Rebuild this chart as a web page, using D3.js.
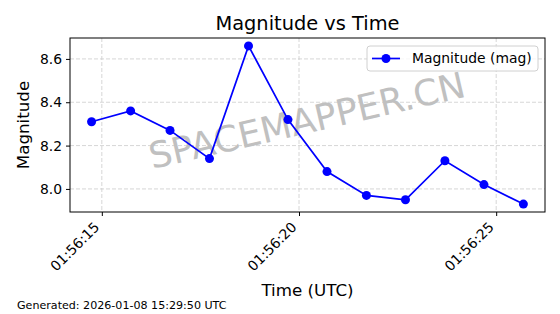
<!DOCTYPE html>
<html>
<head>
<meta charset="utf-8">
<script src="https://cdn.jsdelivr.net/npm/d3@7"></script>
<style>
  body { margin: 0; background: #fff; }
  svg, svg text { font-family: "DejaVu Sans", sans-serif; }
</style>
</head>
<body>
<svg width="560" height="314"></svg>
<script>
// donnees
const times = ["01:56:14.74", "01:56:15.73", "01:56:16.73", "01:56:17.73", "01:56:18.72", "01:56:19.72",
  "01:56:20.71", "01:56:21.71", "01:56:22.70", "01:56:23.70", "01:56:24.69", "01:56:25.69"];
const mags = [8.31, 8.36, 8.27, 8.14, 8.66, 8.32, 8.08, 7.97, 7.95, 8.13, 8.02, 7.93];
const yTicks = [8.0, 8.2, 8.4, 8.6];
const xTicks = ["01:56:15", "01:56:20", "01:56:25"];

const parse = d3.utcParse("%H:%M:%S.%L");
const parseTick = d3.utcParse("%H:%M:%S");
const data = times.map((t, i) => ({ t: parse(t + "0"), v: mags[i] }));

const margin = { top: 38, right: 15, bottom: 102, left: 70 };
const width = 560 - margin.left - margin.right;
const height = 314 - margin.top - margin.bottom;

// marges de 5% comme matplotlib
const tExt = d3.extent(data, d => +d.t);
const tPad = (tExt[1] - tExt[0]) * 0.05;
const vExt = d3.extent(mags);
const vPad = (vExt[1] - vExt[0]) * 0.05;

const x = d3.scaleUtc().domain([tExt[0] - tPad, tExt[1] + tPad]).range([0, width]);
const y = d3.scaleLinear().domain([vExt[0] - vPad, vExt[1] + vPad]).range([height, 0]);

const svg = d3.select("svg");
const chart = svg.append("g")
  .attr("transform", "translate(" + margin.left + "," + margin.top + ")");

/*----------- Grille -----------*/
chart.append("g").selectAll("line")
  .data(xTicks).enter().append("line")
  .attr("x1", d => x(parseTick(d))).attr("x2", d => x(parseTick(d)))
  .attr("y1", 0).attr("y2", height)
  .attr("stroke", "#cccccc").attr("stroke-dasharray", "4,2").attr("stroke-width", 0.8);
chart.append("g").selectAll("line")
  .data(yTicks).enter().append("line")
  .attr("y1", d => y(d)).attr("y2", d => y(d))
  .attr("x1", 0).attr("x2", width)
  .attr("stroke", "#cccccc").attr("stroke-dasharray", "4,2").attr("stroke-width", 0.8);

/*----------- Filigrane -----------*/
chart.append("text")
  .attr("transform", "translate(" + (width / 2) + "," + (height / 2 - 2) + ") rotate(-13)")
  .attr("text-anchor", "middle")
  .attr("dominant-baseline", "middle")
  .attr("font-size", 36)
  .attr("fill", "#c0c0c0")
  .text("SPACEMAPPER.CN");

/*----------- Courbe -----------*/
const line = d3.line().x(d => x(d.t)).y(d => y(d.v));
chart.append("path").datum(data)
  .attr("fill", "none").attr("stroke", "#0000ff").attr("stroke-width", 1.7)
  .attr("d", line);
chart.selectAll("circle").data(data).enter().append("circle")
  .attr("cx", d => x(d.t)).attr("cy", d => y(d.v)).attr("r", 4.5)
  .attr("fill", "#0000ff");

/*----------- Axes -----------*/
const xAxis = d3.axisBottom(x)
  .tickValues(xTicks.map(parseTick))
  .tickFormat(d3.utcFormat("%H:%M:%S"))
  .tickSize(4).tickPadding(4);
const yAxis = d3.axisLeft(y).tickValues(yTicks).tickFormat(d3.format(".1f")).tickSize(4).tickPadding(4);

const gx = chart.append("g").attr("transform", "translate(0," + height + ")").call(xAxis)
  .attr("font-family", "DejaVu Sans");
gx.select(".domain").remove();
gx.selectAll("text")
  .attr("font-size", 13.9).attr("fill", "#000")
  .attr("text-anchor", "end")
  .attr("dy", null).attr("y", 0)
  .attr("transform", "translate(-2,16) rotate(-45)");
gx.selectAll("line").attr("stroke", "#000");

const gy = chart.append("g").call(yAxis).attr("font-family", "DejaVu Sans");
gy.select(".domain").remove();
gy.selectAll("text").attr("font-size", 13.9).attr("fill", "#000");
gy.selectAll("line").attr("stroke", "#000");

chart.append("rect")
  .attr("width", width).attr("height", height)
  .attr("fill", "none").attr("stroke", "#000").attr("stroke-width", 1);

/*----------- Textes -----------*/
svg.append("text")
  .attr("x", margin.left + width / 2).attr("y", 30)
  .attr("text-anchor", "middle").attr("font-size", 19.4)
  .text("Magnitude vs Time");
svg.append("text")
  .attr("x", margin.left + width / 2).attr("y", 296)
  .attr("text-anchor", "middle").attr("font-size", 16.7)
  .text("Time (UTC)");
svg.append("text")
  .attr("transform", "translate(29," + (margin.top + height / 2) + ") rotate(-90)")
  .attr("text-anchor", "middle").attr("font-size", 16.7)
  .text("Magnitude");
svg.append("text")
  .attr("x", 17).attr("y", 309)
  .attr("font-size", 11.1)
  .text("Generated: 2026-01-08 15:29:50 UTC");

/*----------- Legende -----------*/
const legend = chart.append("g").attr("transform", "translate(" + (width - 178) + ",8)");
legend.append("rect")
  .attr("width", 171).attr("height", 25).attr("rx", 3)
  .attr("fill", "#fff").attr("fill-opacity", 0.8)
  .attr("stroke", "#d0d0d0");
legend.append("line")
  .attr("x1", 5).attr("x2", 33).attr("y1", 12.5).attr("y2", 12.5)
  .attr("stroke", "#0000ff").attr("stroke-width", 1.7);
legend.append("circle").attr("cx", 19).attr("cy", 12.5).attr("r", 4.5).attr("fill", "#0000ff");
legend.append("text")
  .attr("x", 45).attr("y", 12.5).attr("dy", "0.35em")
  .attr("font-size", 13.9)
  .text("Magnitude (mag)");
</script>
</body>
</html>
